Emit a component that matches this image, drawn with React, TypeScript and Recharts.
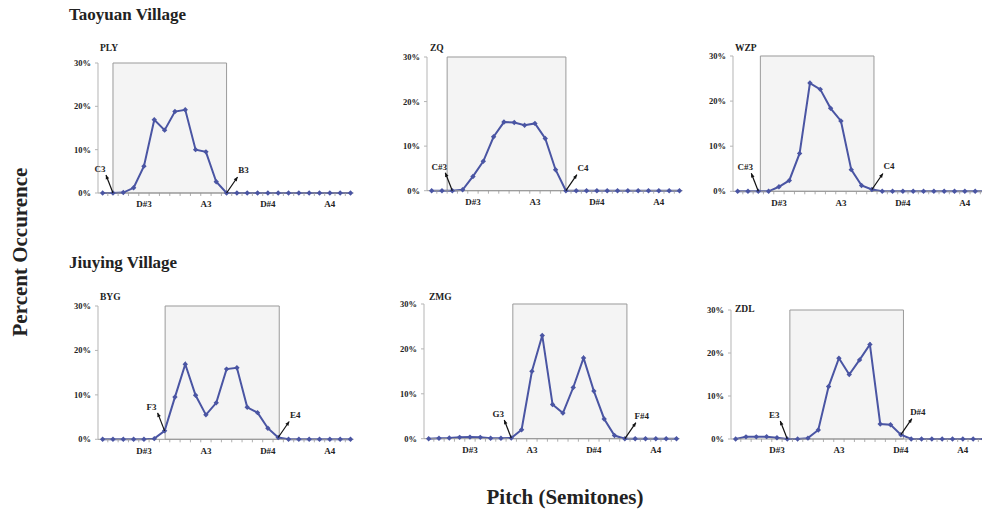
import React from 'react';
import { LineChart, Line, XAxis, YAxis, ReferenceArea, ReferenceDot } from 'recharts';

const FONT = '"Liberation Serif", "Times New Roman", serif';
const LINE_COLOR = '#4a55a3';

// semitone steps on the x axis, B2 .. B4
const notes = [
  'B2', 'C3', 'C#3', 'D3', 'D#3', 'E3', 'F3', 'F#3', 'G3', 'G#3', 'A3', 'A#3', 'B3',
  'C4', 'C#4', 'D4', 'D#4', 'E4', 'F4', 'F#4', 'G4', 'G#4', 'A4', 'A#4', 'B4',
];
const labeledNotes = ['D#3', 'A3', 'D#4', 'A4'];
const percentTicks = [0, 10, 20, 30];

const villages = ['Taoyuan Village', 'Jiuying Village'];
const speakers = ['PLY', 'ZQ', 'WZP', 'BYG', 'ZMG', 'ZDL'];

// percent occurrence per semitone
const ply = [0, 0, 0.1, 1.2, 6.2, 16.9, 14.5, 18.8, 19.2, 10.0, 9.5, 2.6, 0, 0, 0, 0, 0, 0, 0, 0, 0, 0, 0, 0, 0];
const zq = [0, 0, 0, 0.2, 3.2, 6.6, 12.1, 15.4, 15.3, 14.7, 15.1, 11.7, 4.7, 0, 0, 0, 0, 0, 0, 0, 0, 0, 0, 0, 0];
const wzp = [0, 0, 0, 0, 1.0, 2.4, 8.4, 24.0, 22.6, 18.4, 15.6, 4.8, 1.3, 0.4, 0, 0, 0, 0, 0, 0, 0, 0, 0, 0, 0];
const byg = [0, 0, 0, 0, 0, 0.15, 1.9, 9.5, 16.9, 9.9, 5.5, 8.2, 15.8, 16.1, 7.2, 6.0, 2.5, 0.4, 0, 0, 0, 0, 0, 0, 0];
const zmg = [0, 0.1, 0.15, 0.3, 0.35, 0.3, 0.1, 0.1, 0.15, 2.0, 15.0, 23.0, 7.6, 5.7, 11.4, 18.0, 10.6, 4.4, 0.7, 0, 0, 0, 0, 0, 0];
const zdl = [0, 0.5, 0.5, 0.55, 0.3, 0, 0, 0.2, 2.1, 12.2, 18.8, 15.0, 18.4, 22.0, 3.5, 3.3, 1.0, 0, 0, 0, 0, 0, 0, 0, 0];

const series = [ply, zq, wzp, byg, zmg, zdl];

// vocal range of each speaker
const lowNotes = ['C3', 'C#3', 'C#3', 'F3', 'G3', 'E3'];
const highNotes = ['B3', 'C4', 'C4', 'E4', 'F#4', 'D#4'];
// shaded box edges, in semitone steps from B2
const boxStart = [1, 1.5, 2.2, 6.05, 8.15, 5.25];
const boxEnd = [12, 13, 13.2, 17.1, 19.2, 16.25];

// where each small chart sits on the page
const panels = [
  { axisX: 97.7, top: 63.3, plotH: 130, titleX: 100, titleY: 51 },
  { axisX: 426.7, top: 57.3, plotH: 133.7, titleX: 430, titleY: 51 },
  { axisX: 733.3, top: 55.7, plotH: 135.3, titleX: 735, titleY: 51 },
  { axisX: 97.7, top: 305.7, plotH: 133.3, titleX: 100, titleY: 300 },
  { axisX: 424.3, top: 304.3, plotH: 134.7, titleX: 429, titleY: 300 },
  { axisX: 731, top: 310, plotH: 129, titleX: 735, titleY: 312 },
];

const PLOT_W = 255.6;
const Y_W = 34;
const X_H = 20;
const MARGIN = { top: 12, right: 12, bottom: 4, left: 0 };

const xTicks = notes.flatMap((_, i) => (i < notes.length - 1 ? [i, i + 0.5] : [i]));

const NoteTick = (props: any) => {
  const { x, y, payload } = props;
  const v = payload.value;
  if (!Number.isInteger(v)) {
    return <line x1={x} x2={x} y1={y} y2={y + 3} stroke="#999" strokeWidth={0.8} />;
  }
  const name = notes[v];
  if (!labeledNotes.includes(name)) return <g />;
  return (
    <text x={x} y={y + 14.5} textAnchor="middle" fontSize={9} fontWeight={700} fill="#222" fontFamily={FONT}>
      {name}
    </text>
  );
};

const Pointer = ({ cx, cy, text, side }: any) => {
  const tx = side < 0 ? -7 : 11;
  const ty = side < 0 ? -18 : -16;
  const lx = side < 0 ? -13 : 17;
  const ly = side < 0 ? -21 : -20;
  const ang = Math.atan2(ty, tx);
  const ex = cx + tx;
  const ey = cy + ty;
  const ah = 4.5;
  const a1 = [ex - ah * Math.cos(ang - 0.42), ey - ah * Math.sin(ang - 0.42)];
  const a2 = [ex - ah * Math.cos(ang + 0.42), ey - ah * Math.sin(ang + 0.42)];
  return (
    <g>
      <line x1={cx} y1={cy} x2={ex} y2={ey} stroke="#111" strokeWidth={1.2} />
      <path d={`M${ex},${ey} L${a1[0]},${a1[1]} L${a2[0]},${a2[1]} Z`} fill="#111" />
      <text x={cx + lx} y={cy + ly} textAnchor="middle" fontSize={9} fontWeight={700} fill="#222" fontFamily={FONT}>
        {text}
      </text>
    </g>
  );
};

const Diamond = (props: any) => {
  const { cx, cy, index } = props;
  const s = 2.7;
  return <path key={`d-${index}`} d={`M${cx},${cy - s} L${cx + s},${cy} L${cx},${cy + s} L${cx - s},${cy} Z`} fill={LINE_COLOR} />;
};

function Panel({ idx }: { idx: number }) {
  const p = panels[idx];
  const values = series[idx];
  const data = notes.map((note, i) => ({ i, note, v: values[i] }));
  const lowI = notes.indexOf(lowNotes[idx]);
  const highI = notes.indexOf(highNotes[idx]);
  const w = Y_W + PLOT_W + MARGIN.right;
  const h = MARGIN.top + p.plotH + X_H + MARGIN.bottom;

  return (
    <div style={{ position: 'absolute', left: p.axisX - Y_W, top: p.top - MARGIN.top }}>
      <LineChart width={w} height={h} data={data} margin={MARGIN}>
        <XAxis
          type="number"
          dataKey="i"
          domain={[-0.45, 24.3]}
          ticks={xTicks}
          interval={0}
          height={X_H}
          tickLine={false}
          tickSize={0}
          tickMargin={0}
          axisLine={{ stroke: '#999' }}
          tick={NoteTick}
          allowDataOverflow
        />
        <YAxis
          width={Y_W}
          domain={[0, 30]}
          ticks={percentTicks}
          interval={0}
          tickFormatter={(v) => `${v}%`}
          axisLine={{ stroke: '#b5b5b5' }}
          tickLine={{ stroke: '#b5b5b5' }}
          tickSize={3}
          tickMargin={4}
          tick={{ fontSize: 8.5, fontWeight: 700, fill: '#222', fontFamily: FONT }}
        />
        <ReferenceArea
          x1={boxStart[idx]}
          x2={boxEnd[idx]}
          y1={0}
          y2={30}
          fill="#f4f4f4"
          fillOpacity={1}
          stroke="#9a9a9a"
          strokeWidth={1}
        />
        <Line
          type="linear"
          dataKey="v"
          stroke={LINE_COLOR}
          strokeWidth={2}
          dot={Diamond}
          activeDot={false}
          isAnimationActive={false}
        />
        <ReferenceDot
          x={lowI}
          y={values[lowI]}
          shape={(s: any) => <Pointer cx={s.cx} cy={s.cy} text={lowNotes[idx]} side={-1} />}
        />
        <ReferenceDot
          x={highI}
          y={values[highI]}
          shape={(s: any) => <Pointer cx={s.cx} cy={s.cy} text={highNotes[idx]} side={1} />}
        />
      </LineChart>
    </div>
  );
}

export default function App() {
  return (
    <div
      style={{
        position: 'fixed',
        left: 0,
        top: 0,
        width: 982,
        height: 511,
        overflow: 'hidden',
        background: '#fff',
        fontFamily: FONT,
      }}
    >
      <svg width={982} height={511} style={{ position: 'absolute', left: 0, top: 0 }}>
        <text x={69} y={20} fontSize={17} fontWeight={700} fill="#222" fontFamily={FONT}>
          {villages[0]}
        </text>
        <text x={69} y={268} fontSize={17} fontWeight={700} fill="#222" fontFamily={FONT}>
          {villages[1]}
        </text>
        {panels.map((p, i) => (
          <text key={speakers[i]} x={p.titleX} y={p.titleY} fontSize={9.5} fontWeight={700} fill="#222" fontFamily={FONT}>
            {speakers[i]}
          </text>
        ))}
        <text
          x={27}
          y={252}
          transform="rotate(-90 27 252)"
          textAnchor="middle"
          fontSize={21}
          fontWeight={700}
          fill="#222"
          fontFamily={FONT}
        >
          Percent Occurence
        </text>
        <text x={565} y={504} textAnchor="middle" fontSize={21} fontWeight={700} fill="#222" fontFamily={FONT}>
          Pitch (Semitones)
        </text>
      </svg>
      {panels.map((_, i) => (
        <Panel key={speakers[i]} idx={i} />
      ))}
    </div>
  );
}
